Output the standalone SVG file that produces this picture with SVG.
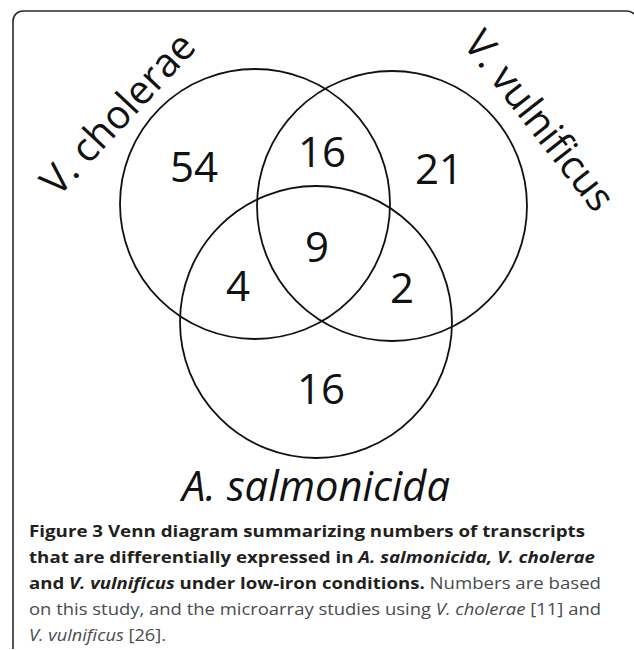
<svg xmlns="http://www.w3.org/2000/svg" width="634" height="650" viewBox="0 0 634 650">
<style>
.frame{fill:none;stroke:#2b2b2b;stroke-width:1.6}
.set{fill:none;stroke:#111;stroke-width:1.8}
.num{font-family:"Open Sans","Noto Sans",sans-serif;font-size:42px;fill:#111;text-anchor:middle}
.lab{font-family:"Open Sans","Noto Sans",sans-serif;font-size:40px;fill:#111}
.cap{font-family:"Open Sans","Noto Sans",sans-serif;font-size:15.5px;fill:#4a4a4c}
.b{font-weight:bold;fill:#231f20}
.i{font-style:italic}
</style>
<rect width="634" height="650" fill="#fff"/>
<path class="frame" d="M13,649 V21 A10,10 0 0 1 23,11 H627 A10,10 0 0 1 637,21"/>
<g id="vcholerae">
<circle class="set" cx="255" cy="204" r="135"/>
<text class="lab" transform="translate(58,198) rotate(-47)" textLength="205" lengthAdjust="spacingAndGlyphs">V. cholerae</text>
</g>
<g id="vvulnificus">
<circle class="set" cx="392" cy="206" r="135"/>
<text class="lab" transform="translate(462,44) rotate(52)" textLength="216" lengthAdjust="spacingAndGlyphs">V. vulnificus</text>
</g>
<g id="asalmonicida">
<circle class="set" cx="316" cy="322" r="136"/>
<text class="lab i" x="316" y="501" text-anchor="middle" font-size="42" style="font-size:42px" textLength="268" lengthAdjust="spacingAndGlyphs">A. salmonicida</text>
</g>
<g id="connectors"></g>
<g id="counts">
<text class="num" x="194" y="182">54</text>
<text class="num" x="322" y="167">16</text>
<text class="num" x="439" y="184">21</text>
<text class="num" x="317" y="262">9</text>
<text class="num" x="238" y="301">4</text>
<text class="num" x="402" y="303">2</text>
<text class="num" x="321" y="404">16</text>
</g>
<g id="caption">
<text class="cap b" x="29" y="536.5" textLength="556" lengthAdjust="spacingAndGlyphs">Figure 3 Venn diagram summarizing numbers of transcripts</text>
<text class="cap b" x="29" y="562.5" textLength="566" lengthAdjust="spacingAndGlyphs">that are differentially expressed in <tspan class="i">A. salmonicida, V. cholerae</tspan></text>
<text class="cap" x="29" y="588.5" textLength="572" lengthAdjust="spacingAndGlyphs"><tspan class="b">and <tspan class="i">V. vulnificus</tspan> under low-iron conditions.</tspan> Numbers are based</text>
<text class="cap" x="29" y="614.5" textLength="572" lengthAdjust="spacingAndGlyphs">on this study, and the microarray studies using <tspan class="i">V. cholerae</tspan> [11] and</text>
<text class="cap" x="29" y="640.5" textLength="137" lengthAdjust="spacingAndGlyphs"><tspan class="i">V. vulnificus</tspan> [26].</text>
</g>
</svg>
